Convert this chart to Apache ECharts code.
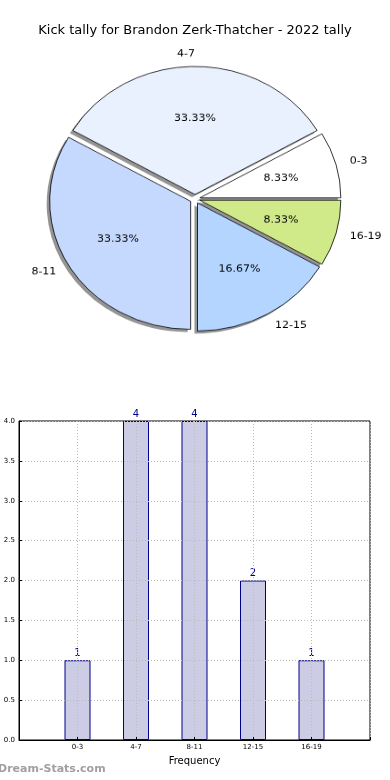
<!DOCTYPE html>
<html>
<head>
<meta charset="utf-8">
<script src="https://cdn.jsdelivr.net/npm/echarts@6/dist/echarts.min.js"></script>
<style>
html,body{margin:0;padding:0;background:#fff;}
#wrap{position:relative;width:390px;height:780px;}
#chart{position:absolute;left:0;top:0;width:390px;height:780px;}
#pie{position:absolute;left:0;top:0;width:390px;height:400px;transform-origin:195px 199px;transform:scaleY(0.908);}
</style>
</head>
<body>
<div id="wrap">
<div id="chart"></div>
<div id="pie"></div>
</div>
<script>
var titleText = 'Kick tally for Brandon Zerk-Thatcher - 2022 tally';
var categories = ['0-3', '4-7', '8-11', '12-15', '16-19'];
var counts = [1, 4, 4, 2, 1];
var sliceColors = ['#ffffff', '#e9f1fe', '#c5d9fe', '#b3d5ff', '#d0ea8a'];
var yTicks = [0, 0.5, 1, 1.5, 2, 2.5, 3, 3.5, 4];
var xAxisName = 'Frequency';
var watermark = 'Dream-Stats.com';

var FONT = 'DejaVu Sans';
var R = 141;
var CENTER = [195, 199];
var OFFSET = 5;
var total = counts.reduce(function (a, b) { return a + b; }, 0);

var pieData = categories.map(function (c, i) {
  return { name: c, value: counts[i], selected: true };
});
var barData = counts.map(function (v, i) { return [i + 1, v]; });

var gridLine = { show: true, lineStyle: { color: '#bbbbbb', type: [1, 2], width: 1 } };

var chart = echarts.init(document.getElementById('chart'), null, { renderer: 'canvas' });
chart.setOption({
  animation: false,
  backgroundColor: '#ffffff',
  textStyle: { fontFamily: FONT },
  title: {
    text: titleText,
    left: 'center',
    top: 19,
    textStyle: { fontFamily: FONT, fontSize: 13, fontWeight: 'normal', color: '#000' }
  },
  graphic: [{
    type: 'text',
    left: -2,
    top: 764,
    style: { text: watermark, fill: '#a0a0a0', font: 'bold 11px "DejaVu Sans"' }
  }],
  grid: {
    left: 19, right: 20, top: 421, bottom: 40,
    show: true, borderColor: '#000', borderWidth: 1, backgroundColor: 'transparent'
  },
  xAxis: {
    type: 'value', min: 0, max: 6, interval: 1, z: 5,
    name: xAxisName, nameLocation: 'middle', nameGap: 16,
    nameTextStyle: { fontFamily: FONT, fontSize: 10, color: '#000' },
    axisLine: { show: true, lineStyle: { color: '#000' } },
    axisTick: { show: true, inside: true, length: 3, lineStyle: { color: '#000' } },
    axisLabel: {
      fontFamily: FONT, fontSize: 7, color: '#000', margin: 4,
      formatter: function (v) { return categories[v - 1] || ''; }
    },
    splitLine: gridLine
  },
  yAxis: {
    type: 'value', min: yTicks[0], max: yTicks[yTicks.length - 1], interval: 0.5, z: 5,
    axisLine: { show: true, lineStyle: { color: '#000' } },
    axisTick: { show: true, inside: true, length: 3, lineStyle: { color: '#000' } },
    axisLabel: {
      fontFamily: FONT, fontSize: 7, color: '#000', margin: 4,
      formatter: function (v) { return v.toFixed(1); }
    },
    splitLine: gridLine
  },
  series: [
    {
      type: 'bar',
      data: barData,
      barWidth: 26,
      z: 2,
      itemStyle: { color: '#ccccE5', borderColor: '#00008b', borderWidth: 1 },
      emphasis: { disabled: true },
      label: {
        show: true, position: 'top', distance: 2,
        fontFamily: FONT, fontSize: 10, color: '#00008b',
        formatter: function (p) { return String(p.value[1]); }
      }
    }
  ]
});

var pie = echarts.init(document.getElementById('pie'), null, { renderer: 'canvas' });
var common = {
  type: 'pie',
  startAngle: 0,
  clockwise: false,
  selectedMode: 'multiple',
  selectedOffset: OFFSET,
  avoidLabelOverlap: false,
  emphasis: { disabled: true },
  data: pieData
};
pie.setOption({
  animation: false,
  backgroundColor: 'transparent',
  series: [
    Object.assign({}, common, {
      // shadow layer
      center: [CENTER[0] - 3, CENTER[1] + 3],
      radius: R,
      silent: true,
      z: 1,
      itemStyle: { color: 'rgba(60,60,60,0.55)', borderWidth: 0 },
      select: { itemStyle: { color: 'rgba(60,60,60,0.55)', borderWidth: 0 } },
      label: { show: false },
      labelLine: { show: false }
    }),
    Object.assign({}, common, {
      center: CENTER,
      radius: R,
      z: 2,
      color: sliceColors,
      itemStyle: { borderColor: '#000', borderWidth: 0.8 },
      select: { itemStyle: { borderColor: '#000', borderWidth: 0.8 } },
      label: {
        show: true, position: 'outside', formatter: '{b}',
        fontFamily: FONT, fontSize: 11, color: '#000', distanceToLabelLine: 0
      },
      labelLine: { show: false, length: R * 0.1, length2: 0 },
      labelLayout: function (p) {
        if (p.dataIndex === 1) { return { align: 'right' }; }
      }
    }),
    Object.assign({}, common, {
      center: CENTER,
      radius: [R * 0.15, R],
      silent: true,
      z: 5,
      itemStyle: { color: 'rgba(0,0,0,0)', borderWidth: 0 },
      select: { itemStyle: { color: 'rgba(0,0,0,0)', borderWidth: 0 } },
      label: {
        show: true, position: 'inside',
        fontFamily: FONT, fontSize: 11, color: '#000',
        formatter: function (p) { return (p.value / total * 100).toFixed(2) + '%'; }
      },
      labelLine: { show: false }
    })
  ]
});
</script>
</body>
</html>
